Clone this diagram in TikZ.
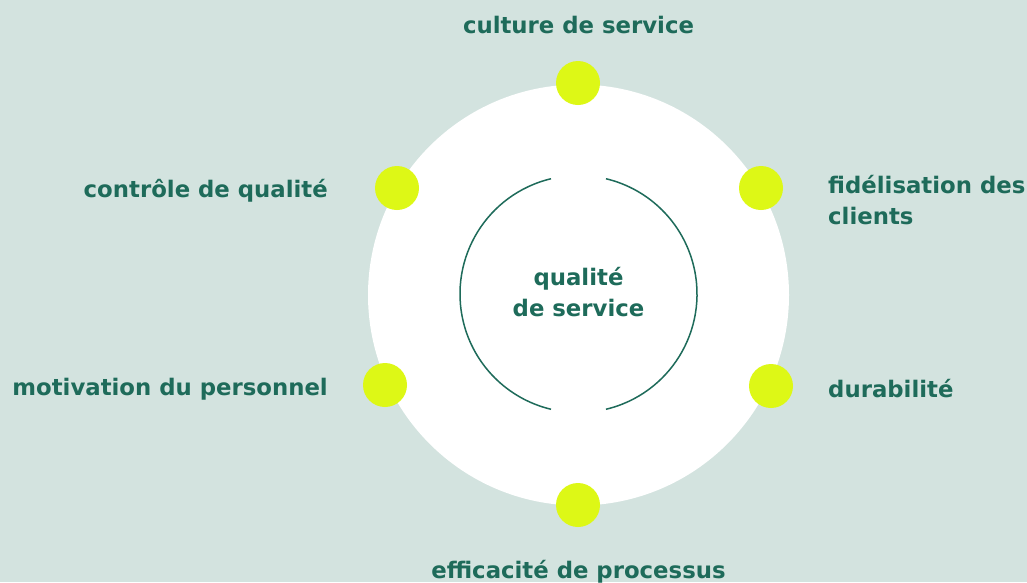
\documentclass[tikz,border=0pt]{standalone}
\usepackage{fontspec}
\setmainfont{DejaVu Sans}
\usetikzlibrary{positioning,calc}
\definecolor{bgmint}{HTML}{D3E3DF}
\definecolor{deepgreen}{HTML}{1E6B5A}
\definecolor{lime}{HTML}{DDF816}

\begin{document}
\begin{tikzpicture}
  [
    x=1pt, y=-1pt,
    dot/.style =
      {circle, fill=lime, minimum size=44pt, inner sep=0pt},
    lbl/.style =
      {text=deepgreen, font=\fontsize{22.8}{31}\selectfont\bfseries, inner sep=0pt},
    lblleft/.style  = {lbl, anchor=base east, align=right},
    lblright/.style = {lbl, anchor=base west, align=left}
  ]
  \fill[bgmint] (0,0) rectangle (1027,582);
  \useasboundingbox (0,0) rectangle (1027,582);

  % disc and inner ring
  \fill[white] (578.5,295) circle (210.5pt);
  \coordinate (c) at (578.5,294);
  \draw[deepgreen, line width=1.5pt] ($(c)+(103.4:118.5pt)$) arc[start angle=103.4, end angle=256.6, radius=118.5pt];
  \draw[deepgreen, line width=1.5pt] ($(c)+(-76.6:118.5pt)$) arc[start angle=-76.6, end angle=76.6, radius=118.5pt];
  \node[lbl, align=center, anchor=base] (q) at (578.5,316) {qualité\\de service};

  % dots on the disc
  \node [dot] at (578,83)  (d1) {};
  \node [dot] at (761,188) (d2) {};
  \node [dot] at (771,386) (d3) {};
  \node [dot] at (578,505) (d4) {};
  \node [dot] at (385,385) (d5) {};
  \node [dot] at (397,188) (d6) {};

  % labels
  \node [lbl, anchor=base] at (578.5,33) (l1) {culture de service};
  \node [lblright] at (828,224) (l2) {fidélisation des\\clients};
  \node [lblright] at (828,397) (l3) {durabilité};
  \node [lbl, anchor=base] at (578.5,578) (l4) {efficacité de processus};
  \node [lblleft] at (328,395) (l5) {motivation du personnel};
  \node [lblleft] at (328,197) (l6) {contrôle de qualité};

\end{tikzpicture}
\end{document}
